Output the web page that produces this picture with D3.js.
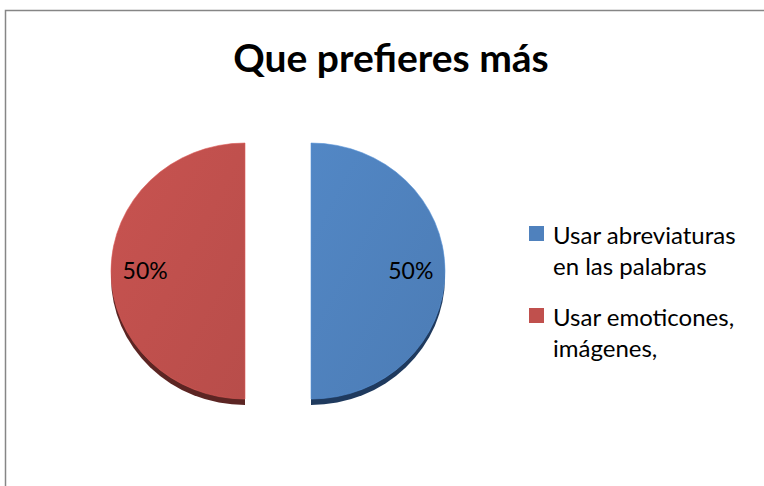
<!DOCTYPE html>
<html>
<head>
<meta charset="utf-8">
<script src="https://cdn.jsdelivr.net/npm/d3@7"></script>
<style>
  body { margin: 0; background: #fff; }
  svg { display: block; font-family: Lato, 'Open Sans', sans-serif; }
</style>
</head>
<body>
<svg width="764" height="486"></svg>
<script>
var categories = ['Usar abreviaturas en las palabras', 'Usar emoticones, imágenes,'];
var legendLines = [['Usar abreviaturas', 'en las palabras'], ['Usar emoticones,', 'imágenes,']];
var values = [50, 50];
var colors = ['#4f81bd', '#c0504d'];
var darkColors = ['#1f3a5e', '#5c2523'];
var title = 'Que prefieres más';

var svg = d3.select('svg');

// chart frame (runs off the right and bottom edge)
svg.append('rect')
    .attr('x', 5.5).attr('y', 10.5)
    .attr('width', 800).attr('height', 520)
    .attr('fill', '#fff')
    .attr('stroke', '#868686')
    .attr('stroke-width', 1.5);

svg.append('text')
    .attr('x', 391).attr('y', 72)
    .attr('text-anchor', 'middle')
    .attr('font-size', 39)
    .attr('font-weight', 'bold')
    .attr('fill', '#000')
    .text(title);

var cx = 278, cy = 271, rx = 134, ry = 128, explode = 33, depth = 6;

var defs = svg.append('defs');
colors.forEach(function(c, i) {
    var g = defs.append('linearGradient')
        .attr('id', 'grad' + i)
        .attr('x1', '0%').attr('y1', '0%').attr('x2', '100%').attr('y2', '100%');
    g.append('stop').attr('offset', '0%').attr('stop-color', d3.color(c).brighter(0.12));
    g.append('stop').attr('offset', '100%').attr('stop-color', d3.color(c).darker(0.12));
});

var pie = d3.pie().sort(null).value(function(d) { return d; });
var arc = d3.arc().innerRadius(0).outerRadius(rx);
var arcs = pie(values);
var total = d3.sum(values);

var pieG = svg.append('g');

var slices = pieG.selectAll('.slice')
    .data(arcs)
    .enter().append('g')
    .attr('class', 'slice')
    .attr('transform', function(d) {
        var mid = (d.startAngle + d.endAngle) / 2;
        var dx = Math.sin(mid) * explode;
        return 'translate(' + [cx + dx, cy] + ')';
    });

// side (3D depth)
slices.append('path')
    .attr('transform', 'translate(0,' + depth + ') scale(1,' + (ry / rx) + ')')
    .attr('d', arc)
    .attr('fill', function(d, i) { return darkColors[i]; });

// top face
slices.append('path')
    .attr('transform', 'scale(1,' + (ry / rx) + ')')
    .attr('d', arc)
    .attr('fill', function(d, i) { return 'url(#grad' + i + ')'; })
    .attr('stroke', function(d, i) { return d3.color(colors[i]).brighter(0.4); })
    .attr('stroke-width', 0.6);

slices.append('text')
    .attr('x', function(d) {
        var mid = (d.startAngle + d.endAngle) / 2;
        return Math.sin(mid) * rx * 0.745;
    })
    .attr('y', 8)
    .attr('text-anchor', 'middle')
    .attr('font-size', 23)
    .attr('fill', '#000')
    .text(function(d) { return Math.round(d.value / total * 100) + '%'; });

// legend
var legend = svg.append('g')
    .attr('transform', 'translate(529,226)');

var items = legend.selectAll('.item')
    .data(categories)
    .enter().append('g')
    .attr('class', 'item')
    .attr('transform', function(d, i) { return 'translate(0,' + (i * 82) + ')'; });

items.append('rect')
    .attr('width', 15).attr('height', 15)
    .attr('fill', function(d, i) { return colors[i]; });

items.append('text')
    .attr('x', 24).attr('y', 18)
    .attr('font-size', 24)
    .attr('fill', '#000')
    .selectAll('tspan')
    .data(function(d, i) { return legendLines[i]; })
    .enter().append('tspan')
    .attr('x', 24)
    .attr('dy', function(d, j) { return j === 0 ? 0 : 31; })
    .text(function(d) { return d; });
</script>
</body>
</html>
